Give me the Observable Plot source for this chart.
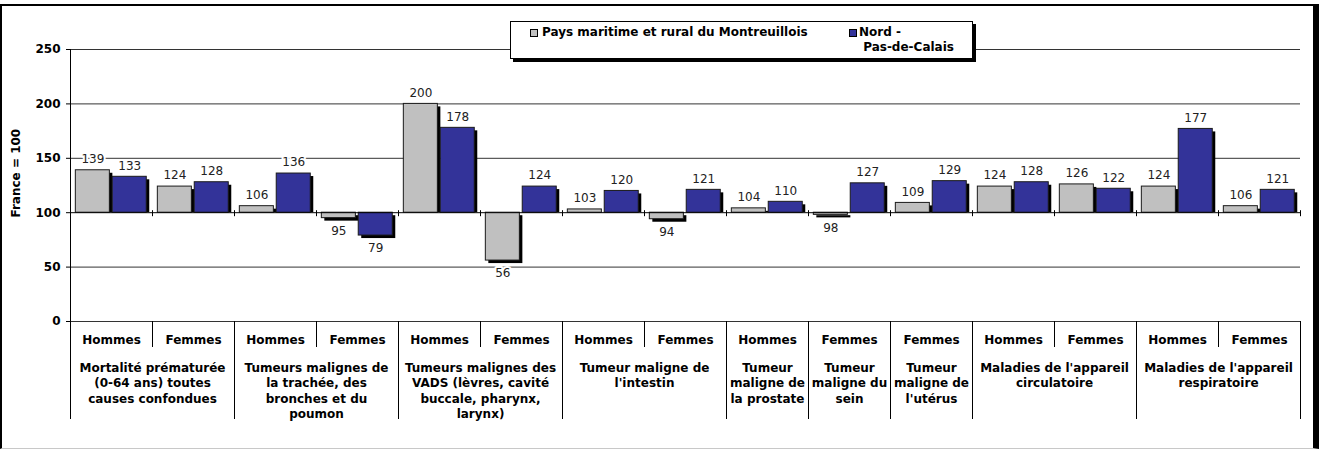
<!DOCTYPE html>
<html><head><meta charset="utf-8">
<script src="https://cdn.jsdelivr.net/npm/d3@7"></script>
<script src="https://cdn.jsdelivr.net/npm/@observablehq/plot@0.6"></script>
<style>
body{margin:0;background:#fff;font-family:"DejaVu Sans",Verdana,sans-serif;}
#frame{position:absolute;left:0;top:4px;width:1319px;height:445px;box-sizing:border-box;border-top:2px solid #000;border-left:2px solid #000;border-right:6px solid #000;border-bottom:1px solid #c8c8c8;background:#fff;}
#chart{position:absolute;left:0;top:0;}
#legend{position:absolute;left:508px;top:15px;width:463px;height:38px;box-sizing:border-box;border:1px solid #000;background:#fff;box-shadow:3px 3px 0 #000;font-weight:bold;font-size:12px;color:#000;}
#legend .sw{position:absolute;width:8px;height:8px;border:1px solid #000;box-sizing:border-box;}
#legend .lb{position:absolute;line-height:14.5px;white-space:nowrap;}
svg g[aria-label="y-axis tick label"] text{font-weight:bold;}
</style>
</head><body>
<div id="frame"><div id="chart"></div><div id="legend"></div></div>
<script>
const sexes = ["Hommes","Femmes","Hommes","Femmes","Hommes","Femmes","Hommes","Femmes","Hommes","Femmes","Femmes","Hommes","Femmes","Hommes","Femmes"];
const groupLabels = [
  "Mortalité prématurée\n(0-64 ans) toutes\ncauses confondues",
  "Tumeurs malignes de\nla trachée, des\nbronches et du\npoumon",
  "Tumeurs malignes des\nVADS (lèvres, cavité\nbuccale, pharynx,\nlarynx)",
  "Tumeur maligne de\nl'intestin",
  "Tumeur\nmaligne de\nla prostate",
  "Tumeur\nmaligne du\nsein",
  "Tumeur\nmaligne de\nl'utérus",
  "Maladies de l'appareil\ncirculatoire",
  "Maladies de l'appareil\nrespiratoire"
];
const groupSizes = [2,2,2,2,1,1,1,2,2];
const montreuillois = [139,124,106,95,200,56,103,94,104,98,109,124,126,124,106];
const nordPdc = [133,128,136,79,178,124,120,121,110,127,129,128,122,177,121];
const seriesNames = ["Pays maritime et rural du Montreuillois","Nord - Pas-de-Calais"];
const seriesColors = ["#c0c0c0","#333399"];
const yTicks = [0,50,100,150,200,250];
const baseline = 100;

// build tables
const bars = [];
montreuillois.forEach((v,i)=>bars.push({col:i,s:0,v}));
nordPdc.forEach((v,i)=>bars.push({col:i,s:1,v}));
const slot = [[0.065,0.48],[0.515,0.93]];
const bx1 = d => d.col + slot[d.s][0];
const bx2 = d => d.col + slot[d.s][1];
const bxc = d => d.col + (slot[d.s][0]+slot[d.s][1])/2;

let acc = 0;
const groups = groupLabels.map((label,k)=>{const g={label,start:acc,end:acc+groupSizes[k]}; acc+=groupSizes[k]; return g;});
const groupBounds = [0, ...groups.map(g=>g.end)];
const subBounds = groups.filter(g=>g.end-g.start===2).map(g=>g.start+1);
const colBounds = d3.range(0, sexes.length+1);
const gridVals = yTicks.filter(t=>t!==baseline);

const pos = bars.filter(d=>d.v>=baseline), neg = bars.filter(d=>d.v<baseline);

const plot = Plot.plot({
  width: 1311, height: 442,
  marginLeft: 68, marginRight: 13, marginTop: 43, marginBottom: 127,
  style: {fontFamily:"DejaVu Sans, Verdana, sans-serif", fontSize:"12px", background:"transparent", overflow:"visible"},
  x: {domain:[0, sexes.length], axis:null},
  y: {domain:[0,250], axis:null},
  color: {domain: seriesNames, range: seriesColors},
  marks: [
    Plot.ruleY(gridVals, {stroke:"#333", strokeWidth:1}),
    Plot.rectY(pos, {x1:bx1, x2:bx2, y1:()=>baseline, y2:d=>d.v, fill:"#000", dx:3, insetTop:3}),
    Plot.rectY(neg, {x1:bx1, x2:bx2, y1:()=>baseline, y2:d=>d.v, fill:"#000", dx:3, dy:3}),
    Plot.rectY(bars, {x1:bx1, x2:bx2, y1:()=>baseline, y2:d=>d.v, fill:d=>seriesNames[d.s], stroke:"#1a1a1a", strokeWidth:1}),
    Plot.ruleY([baseline], {stroke:"#000", strokeWidth:1}),
    Plot.ruleX(colBounds, {x:d=>d, y1:()=>baseline, y2:()=>baseline, insetTop:-2, insetBottom:-4, stroke:"#000"}),
    Plot.ruleX([0], {y1:()=>0, y2:()=>250, stroke:"#000"}),
    Plot.ruleX(groupBounds, {x:d=>d, y1:()=>0, y2:()=>0, insetBottom:-98, stroke:"#000"}),
    Plot.ruleX(subBounds, {x:d=>d, y1:()=>0, y2:()=>0, insetBottom:-26, stroke:"#000"}),
    Plot.axisY(yTicks, {tickSize:4, tickPadding:6, fontWeight:"bold", fontSize:12, label:null}),
    Plot.text(pos, {x:bxc, y:d=>d.v, text:d=>String(d.v), dy:-11, fontSize:12, fill:"#222", stroke:"#fff", strokeWidth:4}),
    Plot.text(neg, {x:bxc, y:d=>d.v, text:d=>String(d.v), dy:13, fontSize:12, fill:"#222", stroke:"#fff", strokeWidth:4}),
    Plot.text(sexes, {x:(d,i)=>i+0.5, y:()=>0, text:d=>d, dy:19, lineAnchor:"middle", fontWeight:"bold", fontSize:12}),
    Plot.text(groups, {x:d=>(d.start+d.end)/2, y:()=>0, text:d=>d.label, dy:39, lineAnchor:"top", lineHeight:1.3, fontWeight:"bold", fontSize:12}),
    Plot.text(["France = 100"], {frameAnchor:"left", text:d=>d, rotate:-90, dx:-54, dy:32, fontWeight:"bold", fontSize:12})
  ]
});
document.getElementById("chart").appendChild(plot);

// legend
const lg = document.getElementById("legend");
const items = [
  {sw:{left:19,top:7}, lb:{left:31,top:3}, text:seriesNames[0]},
  {sw:{left:338,top:7}, lb:{left:348,top:3}, text:"Nord -<br>&nbsp;Pas-de-Calais"}
];
items.forEach((it,k)=>{
  const s=document.createElement("div"); s.className="sw"; s.style.left=it.sw.left+"px"; s.style.top=it.sw.top+"px"; s.style.background=seriesColors[k]; lg.appendChild(s);
  const t=document.createElement("div"); t.className="lb"; t.style.left=it.lb.left+"px"; t.style.top=it.lb.top+"px"; t.innerHTML=it.text; lg.appendChild(t);
});
</script>
</body></html>
